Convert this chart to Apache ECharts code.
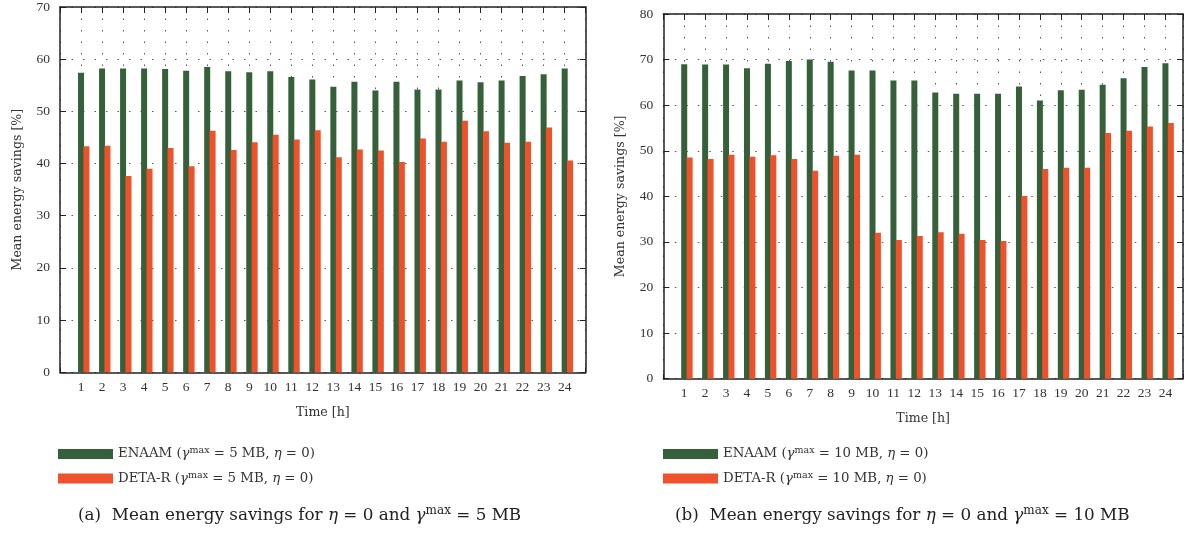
<!DOCTYPE html>
<html>
<head>
<meta charset="utf-8">
<script src="https://cdn.jsdelivr.net/npm/echarts@6/dist/echarts.min.js"></script>
<style>
  html, body { margin: 0; padding: 0; background: #fff; }
  #chart { width: 1186px; height: 533px; }
</style>
</head>
<body>
<div id="chart"></div>
<script>
// Hour of day
const hours = [1, 2, 3, 4, 5, 6, 7, 8, 9, 10, 11, 12, 13, 14, 15, 16, 17, 18, 19, 20, 21, 22, 23, 24];

// Mean energy savings [%], gamma_max = 5 MB
const enaam5 = [57.4, 58.2, 58.2, 58.2, 58.1, 57.8, 58.5, 57.7, 57.5, 57.7, 56.6, 56.1,
                54.7, 55.7, 54.0, 55.7, 54.2, 54.2, 55.9, 55.6, 55.9, 56.8, 57.1, 58.2];
const detaR5 = [43.3, 43.4, 37.6, 39.0, 43.0, 39.5, 46.3, 42.6, 44.1, 45.5, 44.6, 46.4,
                41.2, 42.7, 42.5, 40.3, 44.8, 44.2, 48.2, 46.2, 44.0, 44.2, 46.9, 40.6];

// Mean energy savings [%], gamma_max = 10 MB
const enaam10 = [69.0, 68.9, 68.9, 68.1, 69.1, 69.7, 70.0, 69.5, 67.6, 67.6, 65.4, 65.4,
                 62.8, 62.5, 62.5, 62.5, 64.1, 61.0, 63.3, 63.4, 64.5, 65.9, 68.4, 69.2];
const detaR10 = [48.5, 48.2, 49.1, 48.7, 49.0, 48.2, 45.6, 48.9, 49.1, 32.0, 30.4, 31.3,
                 32.1, 31.8, 30.4, 30.2, 40.1, 46.0, 46.3, 46.3, 53.9, 54.4, 55.3, 56.1];

// Y axis ranges
const yMaxA = 70, yMaxB = 80, yStep = 10;

const SERIF = 'Liberation Serif';
const TEXT_SERIF = 'DejaVu Serif';
const GREEN = '#35603a';
const ORANGE = '#ef512b';
const INK = '#222';

const nameA1 = 'ENAAM (γmax = 5 MB, η = 0)';
const nameA2 = 'DETA-R (γmax = 5 MB, η = 0)';
const nameB1 = 'ENAAM (γmax = 10 MB, η = 0)';
const nameB2 = 'DETA-R (γmax = 10 MB, η = 0)';

const richLegend = {
  t: { fontFamily: TEXT_SERIF, fontSize: 13.3, fontWeight: 'normal', color: '#333', lineHeight: 16 },
  i: { fontFamily: TEXT_SERIF, fontSize: 13.3, fontStyle: 'italic', fontWeight: 'normal', color: '#333', lineHeight: 16 },
  s: { fontFamily: TEXT_SERIF, fontSize: 9.5, fontWeight: 'normal', color: '#333', lineHeight: 9, verticalAlign: 'top' }
};

function legendLabel(name) {
  const m = name.match(/^(\S+) \(γmax = (\d+) MB, η = 0\)$/);
  return '{t|' + m[1] + ' (}{i|γ}{s|max}{t| = ' + m[2] + ' MB, }{i|η}{t| = 0)}';
}

const richCaption = {
  t: { fontFamily: TEXT_SERIF, fontSize: 16.8, fontWeight: 'normal', color: INK, lineHeight: 22 },
  i: { fontFamily: TEXT_SERIF, fontSize: 16.8, fontStyle: 'italic', fontWeight: 'normal', color: INK, lineHeight: 22 },
  s: { fontFamily: TEXT_SERIF, fontSize: 12, fontWeight: 'normal', color: INK, lineHeight: 12, verticalAlign: 'top' }
};

const dotted = { color: '#555', width: 1, type: [1.5, 10] };
const frameLine = { show: true, onZero: false, lineStyle: { color: INK, width: 1.5 } };
const nameStyle = { fontFamily: TEXT_SERIF, fontSize: 12.6, color: '#333' };

function xAxes(gridIndex, max) {
  return [
    {
      type: 'value', gridIndex, min: 0, max, interval: 1, position: 'bottom',
      axisLine: frameLine,
      axisTick: { show: true, inside: true, length: 5, lineStyle: { color: INK } },
      splitLine: { show: true, lineStyle: dotted },
      axisLabel: {
        fontFamily: SERIF, fontSize: 13.5, color: '#333', margin: 8,
        formatter: v => (hours.indexOf(v) >= 0 ? String(v) : '')
      },
      name: 'Time [h]', nameLocation: 'middle', nameGap: 34,
      nameTextStyle: nameStyle
    },
    {
      type: 'value', gridIndex, min: 0, max, interval: 1, position: 'top',
      axisLine: frameLine,
      axisTick: { show: true, inside: true, length: 6, lineStyle: { color: INK } },
      splitLine: { show: false },
      axisLabel: { show: false }
    }
  ];
}

function yAxes(gridIndex, max) {
  return [
    {
      type: 'value', gridIndex, min: 0, max, interval: yStep, position: 'left',
      axisLine: frameLine,
      axisTick: { show: true, inside: true, length: 6, lineStyle: { color: INK } },
      splitLine: { show: true, lineStyle: dotted },
      axisLabel: { fontFamily: SERIF, fontSize: 13.5, color: '#333', margin: 10 },
      name: 'Mean energy savings [%]', nameLocation: 'middle', nameGap: 36,
      nameTextStyle: nameStyle
    },
    {
      type: 'value', gridIndex, min: 0, max, interval: yStep, position: 'right',
      axisLine: frameLine,
      axisTick: { show: true, inside: true, length: 6, lineStyle: { color: INK } },
      splitLine: { show: false },
      axisLabel: { show: false }
    }
  ];
}

function barSeries(name, values, color, xi, yi) {
  return {
    type: 'bar', name, xAxisIndex: xi, yAxisIndex: yi,
    data: hours.map((h, k) => [h, values[k]]),
    barWidth: 6, barGap: '-10%',
    itemStyle: { color },
    emphasis: { disabled: true }
  };
}

// Empty slot on the left of each hour so the green bar sits on the tick
function spacer(xi, yi) {
  return {
    type: 'bar', name: 'spacer' + xi, xAxisIndex: xi, yAxisIndex: yi,
    data: hours.map(h => [h, 0]),
    barWidth: 6, barGap: '-10%', silent: true,
    itemStyle: { color: 'rgba(0,0,0,0)' }
  };
}

const chart = echarts.init(document.getElementById('chart'), null, { renderer: 'canvas' });

chart.setOption({
  animation: false,
  backgroundColor: '#fff',
  grid: [
    { left: 60, top: 7, width: 525.7, height: 365.3 },
    { left: 663.3, top: 14, width: 521.7, height: 364.7 }
  ],
  xAxis: [...xAxes(0, 25), ...xAxes(1, 24.84)],
  yAxis: [...yAxes(0, yMaxA), ...yAxes(1, yMaxB)],
  legend: [
    {
      data: [nameA1, nameA2], orient: 'vertical', left: 53, top: 441,
      itemWidth: 55, itemHeight: 10, itemGap: 10, icon: 'rect',
      selectedMode: false, formatter: legendLabel,
      textStyle: { rich: richLegend }
    },
    {
      data: [nameB1, nameB2], orient: 'vertical', left: 658, top: 441,
      itemWidth: 55, itemHeight: 10, itemGap: 10, icon: 'rect',
      selectedMode: false, formatter: legendLabel,
      textStyle: { rich: richLegend }
    }
  ],
  title: [
    {
      left: 73, top: 500,
      text: '{t|(a)  Mean energy savings for }{i|η}{t| = 0 and }{i|γ}{s|max}{t| = 5 MB}',
      textStyle: { fontWeight: 'normal', rich: richCaption }
    },
    {
      left: 670, top: 500,
      text: '{t|(b)  Mean energy savings for }{i|η}{t| = 0 and }{i|γ}{s|max}{t| = 10 MB}',
      textStyle: { fontWeight: 'normal', rich: richCaption }
    }
  ],
  series: [
    spacer(0, 0),
    barSeries(nameA1, enaam5, GREEN, 0, 0),
    barSeries(nameA2, detaR5, ORANGE, 0, 0),
    spacer(2, 2),
    barSeries(nameB1, enaam10, GREEN, 2, 2),
    barSeries(nameB2, detaR10, ORANGE, 2, 2)
  ]
});
</script>
</body>
</html>
